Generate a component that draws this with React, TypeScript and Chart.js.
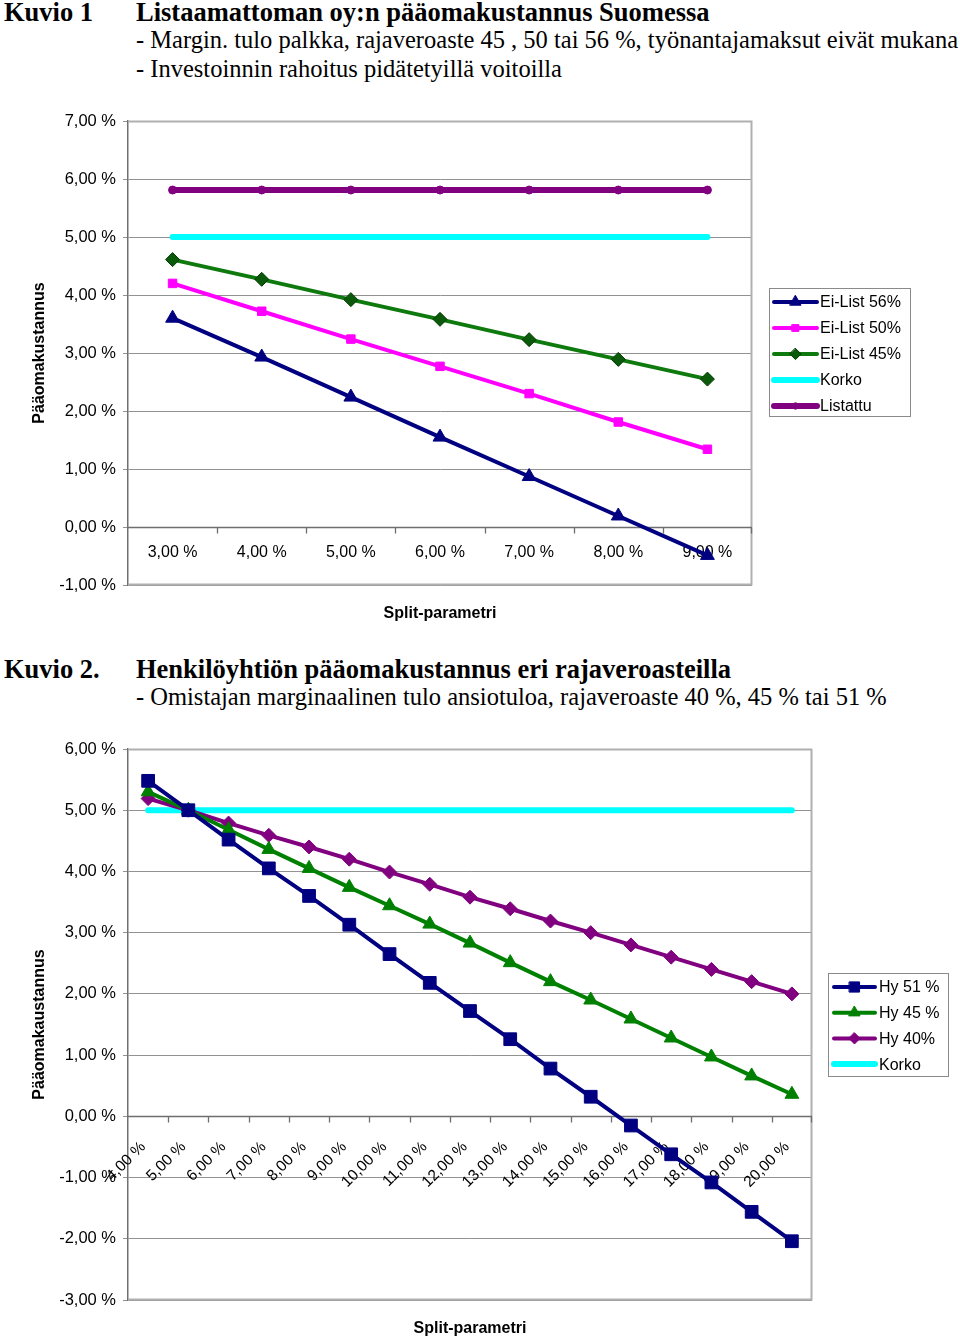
import React, { useEffect, useRef } from 'react';
import { Chart, registerables } from 'chart.js';

Chart.register(...registerables);

// ---------- Data: Kuvio 1 ----------
const k1Labels = ['3,00 %', '4,00 %', '5,00 %', '6,00 %', '7,00 %', '8,00 %', '9,00 %'];
const eiList56 = [3.6, 2.93, 2.24, 1.55, 0.87, 0.19, -0.49];
const eiList50 = [4.2, 3.72, 3.24, 2.77, 2.3, 1.81, 1.34];
const eiList45 = [4.61, 4.27, 3.92, 3.58, 3.23, 2.89, 2.55];
const korko1 = [5.0, 5.0, 5.0, 5.0, 5.0, 5.0, 5.0];
const listattu = [5.81, 5.81, 5.81, 5.81, 5.81, 5.81, 5.81];

// ---------- Data: Kuvio 2 ----------
const k2Labels = [
  '4,00 %', '5,00 %', '6,00 %', '7,00 %', '8,00 %', '9,00 %', '10,00 %', '11,00 %', '12,00 %',
  '13,00 %', '14,00 %', '15,00 %', '16,00 %', '17,00 %', '18,00 %', '19,00 %', '20,00 %',
];
const hy51 = [5.48, 5.0, 4.52, 4.05, 3.6, 3.13, 2.65, 2.18, 1.72, 1.26, 0.78, 0.32, -0.15, -0.62, -1.08, -1.56, -2.04];
const hy45 = [5.3, 5.0, 4.68, 4.36, 4.05, 3.74, 3.44, 3.14, 2.83, 2.51, 2.2, 1.9, 1.59, 1.28, 0.97, 0.66, 0.36];
const hy40 = [5.19, 5.0, 4.79, 4.59, 4.4, 4.2, 3.99, 3.79, 3.58, 3.39, 3.19, 3.0, 2.8, 2.6, 2.4, 2.2, 2.0];
const korko2 = [5, 5, 5, 5, 5, 5, 5, 5, 5, 5, 5, 5, 5, 5, 5, 5, 5];

const SANS = "Arial, 'Liberation Sans', sans-serif";
const SERIF = "'Times New Roman', 'Liberation Serif', serif";

const fmt = (v: number) => v.toFixed(2).replace('.', ',') + ' %';

function drawMarker(ctx: CanvasRenderingContext2D, style: string, x: number, y: number, r: number, fill: string, stroke: string) {
  ctx.beginPath();
  if (style === 'triangle') {
    ctx.moveTo(x, y - r);
    ctx.lineTo(x + r * 0.866, y + r * 0.5);
    ctx.lineTo(x - r * 0.866, y + r * 0.5);
    ctx.closePath();
  } else if (style === 'rect') {
    const s = r * Math.SQRT1_2;
    ctx.rect(x - s, y - s, 2 * s, 2 * s);
  } else if (style === 'rectRot') {
    ctx.moveTo(x, y - r);
    ctx.lineTo(x + r, y);
    ctx.lineTo(x, y + r);
    ctx.lineTo(x - r, y);
    ctx.closePath();
  } else {
    ctx.arc(x, y, r, 0, Math.PI * 2);
  }
  ctx.fillStyle = fill;
  ctx.fill();
  ctx.strokeStyle = stroke;
  ctx.lineWidth = 1;
  ctx.stroke();
}

type Box = { x: number; y: number; w: number; h: number; first: number; row: number; s0: number; s1: number; tx: number };

function makeLegendPlugin(box: Box) {
  return {
    id: 'boxLegend',
    afterDraw(chart: any) {
      const ctx: CanvasRenderingContext2D = chart.ctx;
      ctx.save();
      ctx.fillStyle = '#ffffff';
      ctx.fillRect(box.x, box.y, box.w, box.h);
      ctx.strokeStyle = '#8a8a8a';
      ctx.lineWidth = 1;
      ctx.strokeRect(box.x + 0.5, box.y + 0.5, box.w - 1, box.h - 1);
      chart.data.datasets.forEach((ds: any, i: number) => {
        const cy = box.y + box.first + i * box.row;
        ctx.strokeStyle = ds.borderColor;
        ctx.lineWidth = ds.borderWidth;
        ctx.lineCap = 'round';
        ctx.beginPath();
        ctx.moveTo(box.s0, cy);
        ctx.lineTo(box.s1, cy);
        ctx.stroke();
        if (ds.pointRadius > 0) {
          drawMarker(ctx, ds.pointStyle, (box.s0 + box.s1) / 2, cy, ds.pointRadius * 0.8, ds.pointBackgroundColor, ds.pointBorderColor);
        }
        ctx.fillStyle = '#000';
        ctx.font = `16px ${SANS}`;
        ctx.textAlign = 'left';
        ctx.textBaseline = 'middle';
        ctx.fillText(ds.label, box.tx, cy + 1);
      });
      ctx.restore();
    },
  };
}

function makeAxisPlugin(rotated: boolean) {
  return {
    id: 'zeroAxis',
    beforeDatasetsDraw(chart: any) {
      const ctx: CanvasRenderingContext2D = chart.ctx;
      const a = chart.chartArea;
      const xs = chart.scales.x;
      const ys = chart.scales.y;
      const labels: string[] = chart.data.labels;
      ctx.save();
      // plot frame (top, right, bottom)
      ctx.strokeStyle = '#b0b0b0';
      ctx.lineWidth = 2;
      ctx.beginPath();
      ctx.moveTo(a.left, a.top + 0.5);
      ctx.lineTo(a.right - 0.5, a.top + 0.5);
      ctx.lineTo(a.right - 0.5, a.bottom - 0.5);
      ctx.lineTo(a.left, a.bottom - 0.5);
      ctx.stroke();
      // zero axis with tick marks
      const y0 = Math.round(ys.getPixelForValue(0)) + 0.5;
      ctx.strokeStyle = '#6e6e6e';
      ctx.lineWidth = 1.3;
      ctx.beginPath();
      ctx.moveTo(a.left, y0);
      ctx.lineTo(a.right, y0);
      const n = labels.length;
      for (let i = 0; i < n; i++) {
        const bx = i < n - 1 ? (xs.getPixelForValue(i) + xs.getPixelForValue(i + 1)) / 2 : a.right - 1;
        const px = Math.round(bx) + 0.5;
        ctx.moveTo(px, y0);
        ctx.lineTo(px, y0 + 6);
      }
      ctx.stroke();
      // category labels
      ctx.fillStyle = '#000';
      labels.forEach((lab, i) => {
        const x = xs.getPixelForValue(i);
        if (!rotated) {
          ctx.font = `16px ${SANS}`;
          ctx.textAlign = 'center';
          ctx.textBaseline = 'middle';
          ctx.fillText(lab, x, y0 + 25);
        } else {
          ctx.save();
          ctx.translate(x - 5, y0 + 28);
          ctx.rotate(-Math.PI / 4);
          ctx.font = `15.5px ${SANS}`;
          ctx.textAlign = 'right';
          ctx.textBaseline = 'middle';
          ctx.fillText(lab, 0, 0);
          ctx.restore();
        }
      });
      ctx.restore();
    },
  };
}

function lineDs(label: string, data: number[], color: string, width: number, style: string | false, radius: number, fill?: string, stroke?: string) {
  return {
    label,
    data,
    borderColor: color,
    backgroundColor: color,
    borderWidth: width,
    pointStyle: style || 'circle',
    pointRadius: style ? radius : 0,
    pointHoverRadius: style ? radius : 0,
    pointBackgroundColor: fill || color,
    pointBorderColor: stroke || color,
    pointBorderWidth: 1,
    tension: 0,
    borderCapStyle: 'round',
    fill: false,
  };
}

function axisTitleFont() {
  return { family: SANS, size: 16, weight: 'bold' as const };
}

function buildConfig(opts: {
  labels: string[];
  datasets: any[];
  yMin: number;
  yMax: number;
  yTitle: string;
  padTop: number;
  padRight: number;
  xAxisH: number;
  xTitlePad: number;
  rotated: boolean;
  legend: Box;
}) {
  return {
    type: 'line' as const,
    data: { labels: opts.labels, datasets: opts.datasets },
    options: {
      responsive: false,
      animation: false,
      devicePixelRatio: 1,
      layout: { padding: { top: opts.padTop, right: opts.padRight, left: 0, bottom: 0 } },
      plugins: { legend: { display: false }, tooltip: { enabled: false }, title: { display: false } },
      scales: {
        x: {
          type: 'category',
          offset: true,
          grid: { display: false, drawTicks: false },
          border: { display: false },
          ticks: { display: false },
          title: {
            display: true,
            text: 'Split-parametri',
            font: axisTitleFont(),
            color: '#000',
            padding: { top: 0, bottom: opts.xTitlePad },
          },
          afterFit: (s: any) => {
            s.height = opts.xAxisH;
          },
        },
        y: {
          min: opts.yMin,
          max: opts.yMax,
          ticks: {
            stepSize: 1,
            callback: (v: any) => fmt(Number(v)),
            font: { family: SANS, size: 16.5 },
            color: '#000',
            padding: 7,
          },
          grid: { color: '#929292', lineWidth: 1, tickLength: 5 },
          border: { color: '#707070', width: 1.5 },
          title: {
            display: true,
            text: opts.yTitle,
            font: axisTitleFont(),
            color: '#000',
            padding: { top: 30, bottom: 0 },
          },
          afterFit: (s: any) => {
            s.width = 128;
          },
        },
      },
    },
    plugins: [makeAxisPlugin(opts.rotated), makeLegendPlugin(opts.legend)],
  };
}

function ChartCanvas({ top, height, config }: { top: number; height: number; config: () => any }) {
  const ref = useRef<HTMLCanvasElement | null>(null);
  useEffect(() => {
    if (!ref.current) return;
    const chart = new Chart(ref.current, config());
    return () => chart.destroy();
  }, []);
  return (
    <canvas
      ref={ref}
      width={960}
      height={height}
      style={{ position: 'absolute', left: 0, top, width: 960, height }}
    />
  );
}

const NAVY = '#000080';
const MAGENTA = '#ff00ff';
const GREEN = '#0e7a0e';
const CYAN = '#00ffff';
const PURPLE = '#800080';

function chart1Config() {
  return buildConfig({
    labels: k1Labels,
    datasets: [
      lineDs('Ei-List 56%', eiList56, NAVY, 4, 'triangle', 8),
      lineDs('Ei-List 50%', eiList50, MAGENTA, 4, 'rect', 6),
      lineDs('Ei-List 45%', eiList45, GREEN, 4, 'rectRot', 7, '#0b5a0b', '#003a00'),
      lineDs('Korko', korko1, CYAN, 6, false, 0),
      lineDs('Listattu', listattu, PURPLE, 6, 'circle', 4),
    ],
    yMin: -1,
    yMax: 7,
    yTitle: 'Pääomakustannus',
    padTop: 21,
    padRight: 208,
    xAxisH: 55,
    xTitlePad: 17,
    rotated: false,
    legend: { x: 769, y: 188, w: 142, h: 129, first: 14, row: 26, s0: 774, s1: 817, tx: 820 },
  });
}

function chart2Config() {
  return buildConfig({
    labels: k2Labels,
    datasets: [
      lineDs('Hy 51 %', hy51, NAVY, 4, 'rect', 9),
      lineDs('Hy 45 %', hy45, '#008000', 4, 'triangle', 8),
      lineDs('Hy 40%', hy40, PURPLE, 4, 'rectRot', 7),
      lineDs('Korko', korko2, CYAN, 6, false, 0),
    ],
    yMin: -3,
    yMax: 6,
    yTitle: 'Pääomakaustannus',
    padTop: 29,
    padRight: 148,
    xAxisH: 38,
    xTitlePad: 0,
    rotated: true,
    legend: { x: 828, y: 253, w: 121, h: 104, first: 14, row: 25.7, s0: 834, s1: 875, tx: 879 },
  });
}

function Text({ left, top, size, bold, children }: { left: number; top: number; size: number; bold?: boolean; children: React.ReactNode }) {
  return (
    <div
      style={{
        position: 'absolute',
        left,
        top,
        fontFamily: SERIF,
        fontSize: size,
        fontWeight: bold ? 'bold' : 'normal',
        lineHeight: 1,
        whiteSpace: 'nowrap',
        color: '#000',
      }}
    >
      {children}
    </div>
  );
}

export default function App() {
  return (
    <div style={{ position: 'absolute', left: 0, top: 0, width: 960, height: 1338, background: '#fff', overflow: 'hidden' }}>
      <Text left={4} top={-1} size={26.5} bold>Kuvio 1</Text>
      <Text left={136} top={-1} size={26.5} bold>Listaamattoman oy:n pääomakustannus Suomessa</Text>
      <Text left={136} top={28} size={24.5}>- Margin. tulo palkka, rajaveroaste 45 , 50 tai 56 %, työnantajamaksut eivät mukana</Text>
      <Text left={136} top={57} size={24.5}>- Investoinnin rahoitus pidätetyillä voitoilla</Text>
      <ChartCanvas top={100} height={540} config={chart1Config} />
      <Text left={4} top={656} size={26.5} bold>Kuvio 2.</Text>
      <Text left={136} top={656} size={26.5} bold>Henkilöyhtiön pääomakustannus eri rajaveroasteilla</Text>
      <Text left={136} top={685} size={24.5}>- Omistajan marginaalinen tulo ansiotuloa, rajaveroaste 40 %, 45 % tai 51 %</Text>
      <ChartCanvas top={720} height={618} config={chart2Config} />
    </div>
  );
}
